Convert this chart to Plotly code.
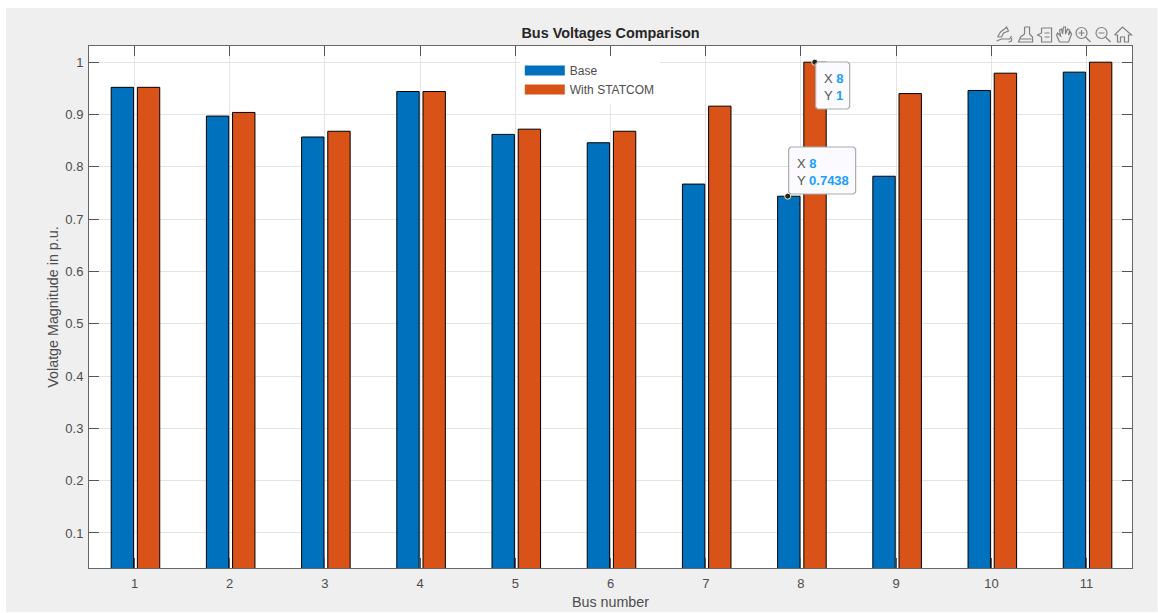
import plotly.graph_objects as go

buses = [1, 2, 3, 4, 5, 6, 7, 8, 9, 10, 11]
base = [0.952, 0.897, 0.857, 0.944, 0.862, 0.846, 0.767, 0.7438, 0.782, 0.946, 0.981]
statcom = [0.952, 0.904, 0.868, 0.944, 0.872, 0.868, 0.916, 1.0, 0.94, 0.979, 1.0]
y_ticks = [0.1, 0.2, 0.3, 0.4, 0.5, 0.6, 0.7, 0.8, 0.9, 1]
y_tick_labels = ["0.1", "0.2", "0.3", "0.4", "0.5", "0.6", "0.7", "0.8", "0.9", "1"]
tip_x = [7.861, 8.145]
tip_y = [0.7438, 1.0]

BLUE, ORANGE = "#0072BD", "#D95319"
TXT = "#4d4d4d"
W, H = 1158, 613
L, R, T, B = 89, 1132.5, 46, 568
FONT = "Liberation Sans"


def px(x, y):
    return (x - L) / (R - L), (B - y) / (B - T)


def path(*subs, closed=False):
    out = []
    for pts in subs:
        s = ""
        for i, (x, y) in enumerate(pts):
            a, b = px(x, y)
            s += ("M" if i == 0 else "L") + f"{a:.5f},{b:.5f}"
        out.append(s)
    return " ".join(out) + (" Z" if closed else "")


ICON = dict(color="#808080", width=1.2)
shapes = []


def add_path(*subs):
    shapes.append(dict(type="path", xref="paper", yref="paper", path=path(*subs),
                       line=ICON, layer="above"))


def add_circle(cx, cy, r):
    x0, y0 = px(cx - r, cy + r)
    x1, y1 = px(cx + r, cy - r)
    shapes.append(dict(type="circle", xref="paper", yref="paper", x0=x0, y0=y0, x1=x1, y1=y1,
                       line=ICON, layer="above"))


def add_box(x0p, x1p, y0p, y1p):
    shapes.append(dict(type="path", xref="paper", yref="paper", layer="above",
                       path=path([(x0p + 2, y0p), (x1p - 2, y0p), (x1p, y0p + 2), (x1p, y1p - 2),
                                  (x1p - 2, y1p), (x0p + 2, y1p), (x0p, y1p - 2), (x0p, y0p + 2)],
                                 closed=True),
                       fillcolor="#fbfaff", line=dict(color="#ababab", width=1.2)))


# grey figure window
x0, y0 = px(6, 612)
x1, y1 = px(W, 8)
shapes.append(dict(type="rect", xref="paper", yref="paper", x0=x0, y0=y0, x1=x1, y1=y1,
                   fillcolor="#efefef", line_width=0, layer="below"))
x0, y0 = px(L, B)
x1, y1 = px(R, T)
shapes.append(dict(type="rect", xref="paper", yref="paper", x0=x0, y0=y0, x1=x1, y1=y1,
                   fillcolor="#ffffff", line_width=0, layer="below"))

# toolbar icons
add_path([(998, 37), (1001, 32), (1005, 29), (1007, 27), (1009, 31), (1004, 33), (1002, 37), (998, 37)],
         [(997, 41), (1002, 39), (1010, 39), (1012, 36)], [(1009, 42), (1012, 41), (1012, 38)])
add_path([(1025, 27), (1030, 27), (1030, 34), (1033, 37), (1033, 42), (1019, 42), (1021, 37),
          (1025, 34), (1025, 27)], [(1021, 39), (1032, 39)])
add_path([(1042, 28), (1052, 28), (1052, 42), (1042, 42), (1042, 37), (1038, 35), (1042, 33), (1042, 28)],
         [(1045, 33), (1050, 33)], [(1045, 37), (1050, 37)])
add_path([(1060, 42), (1057, 35), (1058, 33), (1061, 36), (1060, 30), (1062, 29), (1063, 34),
          (1064, 27), (1066, 27), (1066, 34), (1068, 29), (1070, 30), (1069, 35), (1071, 32),
          (1072, 34), (1069, 42), (1060, 42)])
add_circle(1082, 33, 5.5)
add_path([(1086, 37), (1091, 42)], [(1079, 33), (1085, 33)], [(1082, 30), (1082, 36)])
add_circle(1102, 33, 5.5)
add_path([(1106, 37), (1111, 42)], [(1099, 33), (1105, 33)])
add_path([(1115, 35), (1123, 27), (1132, 35), (1129, 35), (1129, 42), (1125, 42), (1125, 37),
          (1121, 37), (1121, 42), (1118, 42), (1118, 35), (1115, 35)])

# data tip boxes
add_box(789, 856, 147, 194)
add_box(816, 850, 62, 109)

fig = go.Figure()
fig.add_bar(x=buses, y=base, name="Base", width=0.235, offset=-0.245, showlegend=False,
            marker=dict(color=BLUE, line=dict(color="#000000", width=1)))
fig.add_bar(x=buses, y=statcom, name="With STATCOM", width=0.235, offset=0.03, showlegend=False,
            marker=dict(color=ORANGE, line=dict(color="#000000", width=1)))
# legend entries with wide MATLAB-style swatches
fig.add_scatter(x=[None], y=[None], mode="lines", name="Base", line=dict(color=BLUE, width=11))
fig.add_scatter(x=[None], y=[None], mode="lines", name="With STATCOM", line=dict(color=ORANGE, width=11))
# data tip anchors
fig.add_scatter(x=tip_x, y=tip_y, mode="markers", showlegend=False, cliponaxis=False,
                marker=dict(color="#222222", size=6, line=dict(color="#f2eec8", width=1)))


def tip(x_left, y_mid, xval, yval):
    xa, ya = px(x_left, y_mid)
    blue = "#1a9fff"
    return dict(
        xref="paper", yref="paper", x=xa, y=ya, xanchor="left", yanchor="middle",
        showarrow=False, align="left", borderpad=0,
        font=dict(family=FONT, size=13, color="#555555"),
        text=f"X <b style='color:{blue}'>{xval}</b><br>Y <b style='color:{blue}'>{yval}</b>",
    )


fig.update_layout(
    width=W, height=H, autosize=False,
    margin=dict(l=L, r=W - R, t=T, b=H - B, pad=0, autoexpand=False),
    paper_bgcolor="#ffffff", plot_bgcolor="rgba(0,0,0,0)",
    font=dict(family=FONT, size=13, color=TXT),
    barmode="group", hovermode=False,
    shapes=shapes,
    title=dict(text="<b>Bus Voltages Comparison</b>", x=0.5, xref="paper", xanchor="center",
               y=(H - 33) / H, yref="container", yanchor="middle",
               font=dict(family=FONT, size=14.4, color="#262626")),
    legend=dict(x=px(520, 56)[0], y=px(520, 56)[1], xanchor="left", yanchor="top",
                bgcolor="#ffffff", borderwidth=0, itemwidth=40, tracegroupgap=0,
                font=dict(family=FONT, size=12, color=TXT)),
    xaxis=dict(range=[0.522, 11.477], tickmode="array", tickvals=buses,
               ticktext=[str(b) for b in buses], ticks="inside", ticklen=10, tickcolor="#555555",
               ticklabelstandoff=3, automargin=False,
               showline=True, linecolor="#666666", linewidth=1, mirror="ticks",
               showgrid=True, gridcolor="#e4e4e4", zeroline=False,
               title=dict(text="Bus number", standoff=7, font=dict(size=14.3, color=TXT))),
    yaxis=dict(range=[0.033, 1.031], tickmode="array", tickvals=y_ticks, ticktext=y_tick_labels,
               ticks="inside", ticklen=10, tickcolor="#555555",
               ticklabelstandoff=2, automargin=False,
               showline=True, linecolor="#666666", linewidth=1, mirror="ticks",
               showgrid=True, gridcolor="#e4e4e4", zeroline=False,
               title=dict(text="Volatge Magnitude in p.u.", standoff=3, font=dict(size=14.3, color=TXT))),
    annotations=[tip(796, 171.5, "8", "0.7438"), tip(823, 86.5, "8", "1")],
)

fig.write_html("out.html", config={"displayModeBar": False},
               post_script="document.body.style.margin='0';document.body.style.overflow='hidden';")
